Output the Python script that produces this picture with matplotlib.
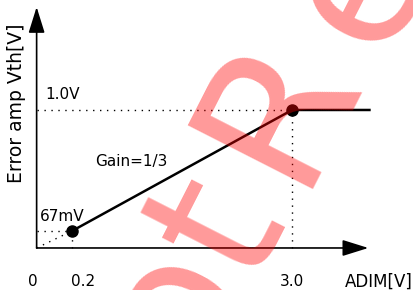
import matplotlib
matplotlib.use("Agg")
import matplotlib.pyplot as plt

# data (schematic transfer curve)
adim = [0.2, 3.0, 4.0]          # ADIM [V]
vth = [0.067, 1.0, 1.0]         # error amp Vth [V]
corner_x = [0.2, 3.0]           # marked points
corner_y = [0.067, 1.0]
x_ticks = ["0.2", "3.0"]

# drawing frame (schematic origin is offset from 0,0)
ox, oy = -0.25, -0.064
x_tip, y_tip = 3.97, 1.794

fig = plt.figure(figsize=(4.14, 2.90), dpi=100)
ax = fig.add_axes([0, 0, 1, 1])
ax.set_xlim(-0.716, 4.551)
ax.set_ylim(-0.388, 1.848)
ax.axis("off")

arrow = dict(arrowstyle="-|>,head_length=1.6,head_width=0.5", mutation_scale=10,
             color="black", lw=1.2, shrinkA=0, shrinkB=0)
ax.annotate("", xy=(x_tip, oy), xytext=(ox, oy), arrowprops=arrow)
ax.annotate("", xy=(ox, y_tip), xytext=(ox, oy), arrowprops=arrow)

dot = (0, (1, 4))
for x, y in zip(corner_x, corner_y):
    ax.plot([ox, x], [y, y], color="black", lw=1, ls=dot)
    ax.plot([x, x], [oy, y], color="black", lw=1, ls=dot)
ax.plot([ox, corner_x[0]], [oy, corner_y[0]], color="black", lw=1, ls=dot)

ax.plot(adim, vth, color="black", lw=1.8, solid_capstyle="butt")
ax.plot(corner_x, corner_y, "o", color="black", ms=8)

fs = 11
ax.text(-0.144, 1.116, "1.0V", fontsize=fs, va="center", ha="left")
ax.text(-0.207, 0.175, "67mV", fontsize=fs, va="center", ha="left")
ax.text(0.493, 0.599, "Gain=1/3", fontsize=fs, va="center", ha="left")
ax.text(ox - 0.05, -0.326, "0", fontsize=fs, va="center", ha="center")
for x, lab in zip(corner_x, x_ticks):
    ax.text(x + (0.14 if x < 1 else 0), -0.326, lab, fontsize=fs, va="center", ha="center")
ax.text(3.67, -0.326, "ADIM[V]", fontsize=12, va="center", ha="left")
ax.text(-0.506, 1.054, "Error amp Vth[V]", fontsize=13.5, va="center", ha="center",
        rotation=90)

# watermark (pieces placed separately, the original font is spaced differently)
wm = dict(fontsize=138, color="red", alpha=0.4, rotation=63, rotation_mode="anchor",
          va="baseline", zorder=10, transform=ax.transAxes)
for px, py, s, h in [(278, 205, "Not", "right"), (294, 189, "R", "left"),
                     (380, 57, "ecommended", "left")]:
    ax.text(px / 414, 1 - py / 290, s, ha=h, **wm)

fig.savefig("out.png", dpi=100)
